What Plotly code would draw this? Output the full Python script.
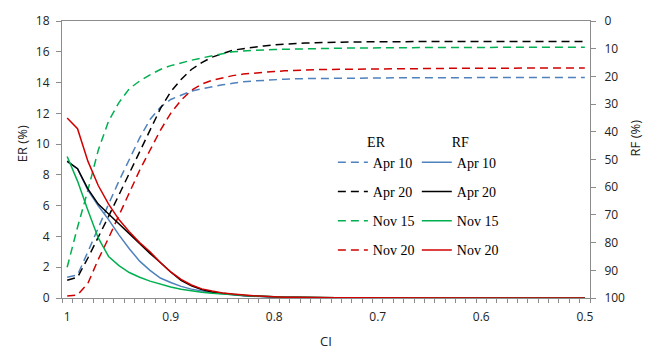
import plotly.graph_objects as go

ci = [1.00, 0.99, 0.98, 0.97, 0.96, 0.95, 0.94, 0.93, 0.92, 0.91,
      0.90, 0.89, 0.88, 0.87, 0.86, 0.85, 0.84, 0.83, 0.82, 0.81,
      0.80, 0.79, 0.78, 0.77, 0.76, 0.75, 0.74, 0.73, 0.72, 0.71,
      0.70, 0.69, 0.68, 0.67, 0.66, 0.65, 0.64, 0.63, 0.62, 0.61,
      0.60, 0.59, 0.58, 0.57, 0.56, 0.55, 0.54, 0.53, 0.52, 0.51, 0.50]

series_names = ["Apr 10", "Apr 20", "Nov 15", "Nov 20"]

# ER (%) - left axis, dashed
er_apr10 = [1.35, 1.5, 3.0, 4.6, 6.1, 7.6, 9.0, 10.4, 11.6, 12.4,
            12.9, 13.2, 13.45, 13.6, 13.75, 13.85, 13.95, 14.05, 14.1, 14.15,
            14.2, 14.22, 14.25, 14.26, 14.27, 14.28, 14.29, 14.3, 14.3, 14.3,
            14.31, 14.31, 14.31, 14.31, 14.32, 14.32, 14.32, 14.32, 14.32, 14.32,
            14.33, 14.33, 14.33, 14.33, 14.33, 14.33, 14.33, 14.33, 14.33, 14.33, 14.33]
er_apr20 = [1.15, 1.35, 2.6, 3.9, 5.3, 6.7, 8.1, 9.5, 10.9, 12.3,
            13.4, 14.2, 14.85, 15.3, 15.65, 15.9, 16.1, 16.2, 16.3, 16.38,
            16.45, 16.5, 16.54, 16.57, 16.59, 16.61, 16.62, 16.63, 16.64, 16.65,
            16.65, 16.66, 16.66, 16.66, 16.66, 16.67, 16.67, 16.67, 16.67, 16.67,
            16.67, 16.67, 16.67, 16.67, 16.67, 16.67, 16.67, 16.67, 16.67, 16.67, 16.67]
er_nov15 = [2.0, 4.6, 7.0, 9.6, 11.5, 12.7, 13.6, 14.1, 14.5, 14.85,
            15.1, 15.3, 15.45, 15.6, 15.75, 15.85, 16.0, 16.05, 16.1, 16.12,
            16.15, 16.17, 16.19, 16.2, 16.21, 16.22, 16.23, 16.24, 16.25, 16.25,
            16.26, 16.26, 16.27, 16.27, 16.27, 16.28, 16.28, 16.28, 16.28, 16.29,
            16.29, 16.29, 16.29, 16.29, 16.3, 16.3, 16.3, 16.3, 16.3, 16.3, 16.3]
er_nov20 = [0.13, 0.2, 0.95, 2.5, 3.9, 5.35, 6.8, 8.3, 9.6, 10.9,
            12.0, 12.85, 13.5, 13.9, 14.15, 14.3, 14.45, 14.55, 14.62, 14.68,
            14.72, 14.76, 14.8, 14.82, 14.84, 14.85, 14.86, 14.87, 14.88, 14.89,
            14.9, 14.9, 14.91, 14.91, 14.92, 14.92, 14.92, 14.93, 14.93, 14.93,
            14.93, 14.94, 14.94, 14.94, 14.94, 14.95, 14.95, 14.95, 14.95, 14.95, 14.95]

# RF (%) - right axis (reversed), solid
rf_apr10 = [50.8, 53.3, 61.1, 66.7, 71.7, 77.2, 82.2, 86.7, 90.0, 92.8,
            94.4, 95.8, 96.8, 97.5, 98.1, 98.5, 98.9, 99.2, 99.4, 99.6,
            99.7, 99.7, 99.8, 99.8, 99.8, 99.9, 99.9, 99.9, 99.9, 99.9,
            100, 100, 100, 100, 100, 100, 100, 100, 100, 100,
            100, 100, 100, 100, 100, 100, 100, 100, 100, 100, 100]
rf_apr20 = [50.6, 53.3, 60.6, 66.1, 69.7, 73.3, 76.9, 80.3, 83.9, 87.2,
            90.6, 93.6, 95.6, 96.9, 97.8, 98.3, 98.8, 99.1, 99.3, 99.5,
            99.6, 99.7, 99.7, 99.8, 99.8, 99.8, 99.9, 99.9, 99.9, 99.9,
            100, 100, 100, 100, 100, 100, 100, 100, 100, 100,
            100, 100, 100, 100, 100, 100, 100, 100, 100, 100, 100]
rf_nov15 = [48.9, 57.8, 68.3, 78.3, 85.0, 88.3, 90.8, 92.5, 93.9, 95.0,
            96.0, 96.8, 97.4, 97.9, 98.3, 98.6, 98.9, 99.1, 99.3, 99.4,
            99.6, 99.7, 99.7, 99.8, 99.8, 99.8, 99.9, 99.9, 99.9, 99.9,
            100, 100, 100, 100, 100, 100, 100, 100, 100, 100,
            100, 100, 100, 100, 100, 100, 100, 100, 100, 100, 100]
rf_nov20 = [35.0, 38.9, 50.6, 59.4, 66.1, 71.7, 76.1, 80.0, 83.3, 87.2,
            90.6, 93.3, 95.3, 96.7, 97.5, 98.2, 98.6, 99.0, 99.2, 99.4,
            99.6, 99.7, 99.7, 99.8, 99.8, 99.8, 99.9, 99.9, 99.9, 99.9,
            100, 100, 100, 100, 100, 100, 100, 100, 100, 100,
            100, 100, 100, 100, 100, 100, 100, 100, 100, 100, 100]

x_tick_vals = [1.0, 0.9, 0.8, 0.7, 0.6, 0.5]
x_tick_text = ["1", "0.9", "0.8", "0.7", "0.6", "0.5"]

colors = ["#4F81BD", "#000000", "#00B050", "#D00000"]
er_data = [er_apr10, er_apr20, er_nov15, er_nov20]
rf_data = [rf_apr10, rf_apr20, rf_nov15, rf_nov20]

fig = go.Figure()
for name, ys, c in zip(series_names, er_data, colors):
    fig.add_trace(go.Scatter(
        x=ci, y=ys, name=name, mode="lines", yaxis="y",
        line=dict(color=c, width=1.5, dash="8px,5px"),
        legend="legend", legendgroup="er_" + name))
for name, ys, c in zip(series_names, rf_data, colors):
    fig.add_trace(go.Scatter(
        x=ci, y=ys, name=name, mode="lines", yaxis="y2",
        line=dict(color=c, width=1.5),
        legend="legend2", legendgroup="rf_" + name))

# category boundaries (ticks between categories)
minor_vals = [round(ci[0] + 0.005 - 0.01 * k, 3) for k in range(len(ci) + 1)]

axis_grey = "#8C8C8C"
tick_font = dict(family="Open Sans, Noto Sans, sans-serif", size=12, color="#222")
title_font = dict(family="Open Sans, Noto Sans, sans-serif", size=13, color="#222")
leg_font = dict(family="Liberation Serif, Times New Roman, serif", size=14, color="#000")

ML, MR, MT, MB = 62, 61, 15, 53
W, H = 651, 351
pw, ph = W - ML - MR, H - MT - MB

def px_to_paper(px, py):
    return (px - ML) / pw, (H - MB - py) / ph

def ann(text, px, py, angle=0):
    xp, yp = px_to_paper(px, py)
    return dict(text=text, x=xp, y=yp, xref="paper", yref="paper",
                xanchor="center", yanchor="middle", showarrow=False,
                textangle=angle, font=title_font)

fig.update_layout(
    width=W, height=H,
    margin=dict(l=ML, r=MR, t=MT, b=MB),
    plot_bgcolor="white", paper_bgcolor="white",
    xaxis=dict(
        range=[1.005, 0.495], tickmode="array",
        tickvals=x_tick_vals, ticktext=x_tick_text,
        ticks="outside", ticklen=8, tickcolor="rgba(0,0,0,0)",
        minor=dict(tickmode="array", tickvals=minor_vals, ticks="outside",
                   ticklen=4, tickcolor=axis_grey, showgrid=False),
        showgrid=False, zeroline=False,
        showline=True, linecolor=axis_grey, linewidth=1, mirror=True,
        tickfont=tick_font),
    yaxis=dict(
        range=[0, 18], tickmode="linear", tick0=0, dtick=2,
        ticks="outside", ticklen=5, tickcolor=axis_grey,
        showgrid=False, zeroline=False,
        showline=True, linecolor=axis_grey, linewidth=1,
        tickfont=tick_font, ticklabelstandoff=4),
    yaxis2=dict(
        range=[100, 0], overlaying="y", side="right",
        tickmode="linear", tick0=0, dtick=10,
        ticks="outside", ticklen=5, tickcolor=axis_grey,
        showgrid=False, zeroline=False,
        showline=True, linecolor=axis_grey, linewidth=1,
        tickfont=tick_font, ticklabelstandoff=6),
    legend=dict(
        title=dict(text="ER", side="top center", font=leg_font),
        x=0.513, y=0.612, xanchor="left", yanchor="top",
        font=leg_font, tracegroupgap=8, bgcolor="rgba(0,0,0,0)",
        itemwidth=30),
    legend2=dict(
        title=dict(text="RF", side="top center", font=leg_font),
        x=0.672, y=0.612, xanchor="left", yanchor="top",
        font=leg_font, tracegroupgap=8, bgcolor="rgba(0,0,0,0)",
        itemwidth=30),
    showlegend=True,
    annotations=[
        ann("ER (%)", 22, 141, -90),
        ann("RF (%)", 635, 135, -90),
        ann("CI", 326, 342),
    ],
)

fig.write_html("out.html",
               config={"displayModeBar": False},
               post_script="document.body.style.margin='0';document.body.style.overflow='hidden';")
